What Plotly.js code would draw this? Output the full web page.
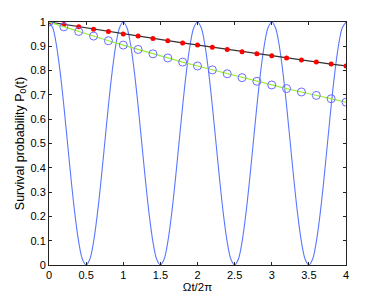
<!DOCTYPE html>
<html><head><meta charset="utf-8">
<script src="https://cdn.plot.ly/plotly-3.0.1.min.js"></script>
<style>html,body{margin:0;padding:0;background:#fff}#chart{width:382px;height:298px}</style>
</head><body><div id="chart"></div>
<script>
// Oscillating survival probability sampled every 0.05 in Ωt/2π
const xOsc = [];
for (let i = 0; i <= 80; i++) xOsc.push(i * 0.05);
const yOsc = [
 1,0.976,0.905,0.794,0.655,0.5,0.345,0.206,0.095,0.024,0,0.024,0.095,0.206,0.345,0.5,0.655,0.794,0.905,0.976,
 1,0.976,0.905,0.794,0.655,0.5,0.345,0.206,0.095,0.024,0,0.024,0.095,0.206,0.345,0.5,0.655,0.794,0.905,0.976,
 1,0.976,0.905,0.794,0.655,0.5,0.345,0.206,0.095,0.024,0,0.024,0.095,0.206,0.345,0.5,0.655,0.794,0.905,0.976,
 1,0.976,0.905,0.794,0.655,0.5,0.345,0.206,0.095,0.024,0,0.024,0.095,0.206,0.345,0.5,0.655,0.794,0.905,0.976,
 1];
// Sampled decays every 0.2
const xSamp = [0,0.2,0.4,0.6,0.8,1,1.2,1.4,1.6,1.8,2,2.2,2.4,2.6,2.8,3,3.2,3.4,3.6,3.8,4];
const yRed = [1,0.990,0.980,0.970,0.961,0.951,0.942,0.932,0.923,0.914,0.905,0.896,0.887,0.878,0.869,0.861,0.852,0.844,0.835,0.827,0.819];
const yGreen = [1,0.980,0.961,0.942,0.923,0.905,0.887,0.869,0.852,0.835,0.819,0.803,0.787,0.771,0.756,0.741,0.726,0.712,0.698,0.684,0.670];
const xTicks = [0,0.5,1,1.5,2,2.5,3,3.5,4];
const yTicks = [0,0.1,0.2,0.3,0.4,0.5,0.6,0.7,0.8,0.9,1];

const traces = [
 {x:xOsc, y:yOsc, mode:'lines', line:{color:'#5a78ff', width:1.1, shape:'spline'}, hoverinfo:'skip'},
 {x:xSamp, y:yRed, mode:'lines+markers', line:{color:'#333333', width:1.2},
  marker:{color:'#ff0000', size:5, symbol:'circle'}},
 {x:xSamp, y:yGreen, mode:'lines+markers', line:{color:'#99ee33', width:1.2},
  marker:{color:'#6b6bff', size:8, symbol:'circle-open', line:{width:1}}}
];
const axisBase = {showgrid:false, zeroline:false, showline:true, mirror:'ticks', linecolor:'#222', linewidth:1,
  ticks:'inside', ticklen:3, tickcolor:'#222', tickfont:{family:'Liberation Sans, Arial, sans-serif', size:11, color:'#000'}};
const layout = {
 width:382, height:298, margin:{l:49, r:36, t:22, b:33},
 paper_bgcolor:'#fff', plot_bgcolor:'#fff', showlegend:false,
 xaxis:Object.assign({}, axisBase, {range:[0,4], tickvals:xTicks, ticktext:xTicks.map(String),
   title:{text:'Ωt/2π', font:{family:'Liberation Sans, Arial, sans-serif', size:11.5, color:'#000'}, standoff:1}}),
 yaxis:Object.assign({}, axisBase, {range:[0,1], tickvals:yTicks, ticktext:yTicks.map(String),
   title:{text:'Survival probability P<sub>0</sub>(t)', font:{family:'Liberation Sans, Arial, sans-serif', size:12.5, color:'#000'}, standoff:3}})
};
Plotly.newPlot('chart', traces, layout, {staticPlot:true, displayModeBar:false});
</script></body></html>
